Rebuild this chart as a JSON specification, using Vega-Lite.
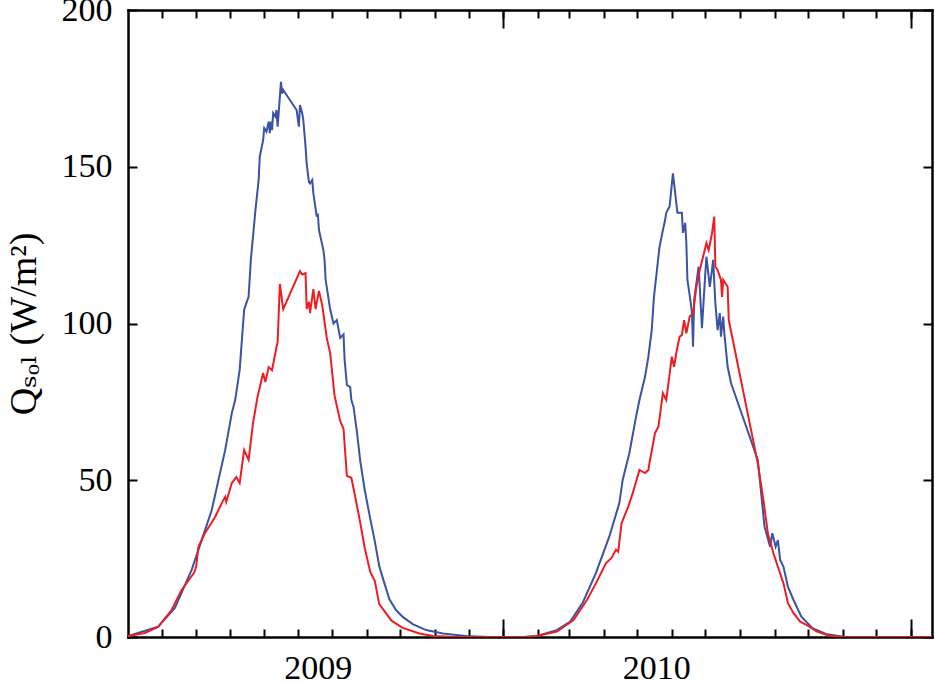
{
  "$schema": "https://vega.github.io/schema/vega-lite/v6.json",
  "width": 804,
  "height": 627,
  "autosize": {"type": "none"},
  "padding": {"left": 128, "top": 10, "right": 3, "bottom": 47},
  "background": "white",
  "config": {
    "view": {"stroke": null},
    "axis": {
      "labelFont": "Liberation Serif",
      "titleFont": "Liberation Serif, DejaVu Serif",
      "labelColor": "black",
      "titleColor": "black",
      "domainColor": "black",
      "domainWidth": 2.5,
      "domainCap": "square",
      "tickColor": "black",
      "tickWidth": 2,
      "grid": false
    }
  },
  "data": {
    "values": [
      {"date": "2009-01-30", "series": "blue", "q": 0.3},
      {"date": "2009-02-26", "series": "blue", "q": 3.3},
      {"date": "2009-03-13", "series": "blue", "q": 9.3},
      {"date": "2009-03-28", "series": "blue", "q": 21.4},
      {"date": "2009-04-06", "series": "blue", "q": 30.9},
      {"date": "2009-04-15", "series": "blue", "q": 40.5},
      {"date": "2009-04-27", "series": "blue", "q": 59.6},
      {"date": "2009-05-03", "series": "blue", "q": 71.5},
      {"date": "2009-05-06", "series": "blue", "q": 75.6},
      {"date": "2009-05-10", "series": "blue", "q": 85.2},
      {"date": "2009-05-14", "series": "blue", "q": 104.3},
      {"date": "2009-05-16", "series": "blue", "q": 106.5},
      {"date": "2009-05-18", "series": "blue", "q": 108.5},
      {"date": "2009-05-20", "series": "blue", "q": 120.3},
      {"date": "2009-05-24", "series": "blue", "q": 135.7},
      {"date": "2009-05-27", "series": "blue", "q": 145.8},
      {"date": "2009-05-28", "series": "blue", "q": 153.2},
      {"date": "2009-05-31", "series": "blue", "q": 158.5},
      {"date": "2009-06-01", "series": "blue", "q": 162.3},
      {"date": "2009-06-03", "series": "blue", "q": 161.2},
      {"date": "2009-06-05", "series": "blue", "q": 164.4},
      {"date": "2009-06-06", "series": "blue", "q": 160.7},
      {"date": "2009-06-07", "series": "blue", "q": 164.4},
      {"date": "2009-06-08", "series": "blue", "q": 161.7},
      {"date": "2009-06-09", "series": "blue", "q": 167.1},
      {"date": "2009-06-11", "series": "blue", "q": 166.0},
      {"date": "2009-06-12", "series": "blue", "q": 168.1},
      {"date": "2009-06-13", "series": "blue", "q": 162.8},
      {"date": "2009-06-15", "series": "blue", "q": 172.3},
      {"date": "2009-06-16", "series": "blue", "q": 177.1},
      {"date": "2009-06-17", "series": "blue", "q": 173.4},
      {"date": "2009-06-18", "series": "blue", "q": 174.5},
      {"date": "2009-06-30", "series": "blue", "q": 168.1},
      {"date": "2009-07-02", "series": "blue", "q": 162.8},
      {"date": "2009-07-03", "series": "blue", "q": 169.7},
      {"date": "2009-07-05", "series": "blue", "q": 167.1},
      {"date": "2009-07-06", "series": "blue", "q": 164.9},
      {"date": "2009-07-08", "series": "blue", "q": 156.4},
      {"date": "2009-07-09", "series": "blue", "q": 151.1},
      {"date": "2009-07-11", "series": "blue", "q": 145.2},
      {"date": "2009-07-12", "series": "blue", "q": 144.7},
      {"date": "2009-07-14", "series": "blue", "q": 145.8},
      {"date": "2009-07-15", "series": "blue", "q": 141.5},
      {"date": "2009-07-18", "series": "blue", "q": 134.1},
      {"date": "2009-07-19", "series": "blue", "q": 135.1},
      {"date": "2009-07-20", "series": "blue", "q": 129.8},
      {"date": "2009-07-22", "series": "blue", "q": 126.6},
      {"date": "2009-07-24", "series": "blue", "q": 123.4},
      {"date": "2009-07-25", "series": "blue", "q": 120.3},
      {"date": "2009-07-26", "series": "blue", "q": 113.9},
      {"date": "2009-07-30", "series": "blue", "q": 104.6},
      {"date": "2009-08-02", "series": "blue", "q": 100.0},
      {"date": "2009-08-05", "series": "blue", "q": 101.1},
      {"date": "2009-08-08", "series": "blue", "q": 95.4},
      {"date": "2009-08-11", "series": "blue", "q": 96.5},
      {"date": "2009-08-12", "series": "blue", "q": 88.4},
      {"date": "2009-08-14", "series": "blue", "q": 80.4},
      {"date": "2009-08-17", "series": "blue", "q": 79.7},
      {"date": "2009-08-18", "series": "blue", "q": 75.6},
      {"date": "2009-08-20", "series": "blue", "q": 73.4},
      {"date": "2009-08-23", "series": "blue", "q": 65.4},
      {"date": "2009-08-26", "series": "blue", "q": 56.1},
      {"date": "2009-08-30", "series": "blue", "q": 46.9},
      {"date": "2009-09-04", "series": "blue", "q": 37.6},
      {"date": "2009-09-08", "series": "blue", "q": 30.6},
      {"date": "2009-09-12", "series": "blue", "q": 22.6},
      {"date": "2009-09-17", "series": "blue", "q": 16.7},
      {"date": "2009-09-21", "series": "blue", "q": 12.1},
      {"date": "2009-09-27", "series": "blue", "q": 8.6},
      {"date": "2009-10-03", "series": "blue", "q": 6.4},
      {"date": "2009-10-12", "series": "blue", "q": 4.1},
      {"date": "2009-10-24", "series": "blue", "q": 2.2},
      {"date": "2009-11-08", "series": "blue", "q": 1.1},
      {"date": "2009-12-02", "series": "blue", "q": 0.2},
      {"date": "2009-12-20", "series": "blue", "q": 0},
      {"date": "2010-01-20", "series": "blue", "q": 0},
      {"date": "2010-01-31", "series": "blue", "q": 0.3},
      {"date": "2010-02-18", "series": "blue", "q": 2.2},
      {"date": "2010-03-02", "series": "blue", "q": 4.9},
      {"date": "2010-03-13", "series": "blue", "q": 10.8},
      {"date": "2010-03-25", "series": "blue", "q": 20.4},
      {"date": "2010-04-06", "series": "blue", "q": 32.0},
      {"date": "2010-04-15", "series": "blue", "q": 42.7},
      {"date": "2010-04-18", "series": "blue", "q": 50.1},
      {"date": "2010-04-24", "series": "blue", "q": 58.7},
      {"date": "2010-04-30", "series": "blue", "q": 70.3},
      {"date": "2010-05-03", "series": "blue", "q": 75.6},
      {"date": "2010-05-08", "series": "blue", "q": 83.0},
      {"date": "2010-05-11", "series": "blue", "q": 89.4},
      {"date": "2010-05-14", "series": "blue", "q": 97.9},
      {"date": "2010-05-16", "series": "blue", "q": 108.5},
      {"date": "2010-05-18", "series": "blue", "q": 114.9},
      {"date": "2010-05-21", "series": "blue", "q": 124.5},
      {"date": "2010-05-24", "series": "blue", "q": 129.8},
      {"date": "2010-05-26", "series": "blue", "q": 133.0},
      {"date": "2010-05-27", "series": "blue", "q": 135.3},
      {"date": "2010-05-30", "series": "blue", "q": 137.3},
      {"date": "2010-06-02", "series": "blue", "q": 147.9},
      {"date": "2010-06-04", "series": "blue", "q": 141.6},
      {"date": "2010-06-06", "series": "blue", "q": 135.3},
      {"date": "2010-06-10", "series": "blue", "q": 135.3},
      {"date": "2010-06-11", "series": "blue", "q": 128.9},
      {"date": "2010-06-13", "series": "blue", "q": 132.1},
      {"date": "2010-06-14", "series": "blue", "q": 125.7},
      {"date": "2010-06-15", "series": "blue", "q": 113.9},
      {"date": "2010-06-18", "series": "blue", "q": 106.5},
      {"date": "2010-06-19", "series": "blue", "q": 103.4},
      {"date": "2010-06-20", "series": "blue", "q": 92.6},
      {"date": "2010-06-21", "series": "blue", "q": 107.5},
      {"date": "2010-06-25", "series": "blue", "q": 118.1},
      {"date": "2010-06-26", "series": "blue", "q": 111.7},
      {"date": "2010-06-28", "series": "blue", "q": 98.5},
      {"date": "2010-07-01", "series": "blue", "q": 116.1},
      {"date": "2010-07-02", "series": "blue", "q": 121.3},
      {"date": "2010-07-05", "series": "blue", "q": 111.7},
      {"date": "2010-07-07", "series": "blue", "q": 117.1},
      {"date": "2010-07-08", "series": "blue", "q": 120.3},
      {"date": "2010-07-10", "series": "blue", "q": 106.5},
      {"date": "2010-07-12", "series": "blue", "q": 97.9},
      {"date": "2010-07-14", "series": "blue", "q": 103.3},
      {"date": "2010-07-15", "series": "blue", "q": 95.8},
      {"date": "2010-07-17", "series": "blue", "q": 102.2},
      {"date": "2010-07-18", "series": "blue", "q": 97.0},
      {"date": "2010-07-21", "series": "blue", "q": 86.2},
      {"date": "2010-07-24", "series": "blue", "q": 81.0},
      {"date": "2010-08-17", "series": "blue", "q": 56.5},
      {"date": "2010-08-20", "series": "blue", "q": 45.9},
      {"date": "2010-08-23", "series": "blue", "q": 35.2},
      {"date": "2010-08-28", "series": "blue", "q": 28.8},
      {"date": "2010-08-30", "series": "blue", "q": 33.1},
      {"date": "2010-09-02", "series": "blue", "q": 28.8},
      {"date": "2010-09-04", "series": "blue", "q": 30.9},
      {"date": "2010-09-06", "series": "blue", "q": 24.6},
      {"date": "2010-09-09", "series": "blue", "q": 22.4},
      {"date": "2010-09-13", "series": "blue", "q": 16.0},
      {"date": "2010-09-18", "series": "blue", "q": 11.8},
      {"date": "2010-09-25", "series": "blue", "q": 6.5},
      {"date": "2010-10-05", "series": "blue", "q": 2.8},
      {"date": "2010-10-17", "series": "blue", "q": 1.0},
      {"date": "2010-11-01", "series": "blue", "q": 0.1},
      {"date": "2010-11-20", "series": "blue", "q": 0},
      {"date": "2011-01-20", "series": "blue", "q": 0},
      {"date": "2009-01-30", "series": "red", "q": 0.3},
      {"date": "2009-02-14", "series": "red", "q": 1.3},
      {"date": "2009-02-26", "series": "red", "q": 3.2},
      {"date": "2009-03-10", "series": "red", "q": 8.6},
      {"date": "2009-03-19", "series": "red", "q": 15.0},
      {"date": "2009-03-30", "series": "red", "q": 20.4},
      {"date": "2009-04-01", "series": "red", "q": 22.3},
      {"date": "2009-04-03", "series": "red", "q": 28.7},
      {"date": "2009-04-09", "series": "red", "q": 33.2},
      {"date": "2009-04-18", "series": "red", "q": 38.3},
      {"date": "2009-04-24", "series": "red", "q": 42.7},
      {"date": "2009-04-27", "series": "red", "q": 44.7},
      {"date": "2009-04-28", "series": "red", "q": 43.1},
      {"date": "2009-05-03", "series": "red", "q": 49.1},
      {"date": "2009-05-07", "series": "red", "q": 51.0},
      {"date": "2009-05-10", "series": "red", "q": 49.1},
      {"date": "2009-05-14", "series": "red", "q": 59.6},
      {"date": "2009-05-18", "series": "red", "q": 56.5},
      {"date": "2009-05-22", "series": "red", "q": 68.3},
      {"date": "2009-05-26", "series": "red", "q": 76.6},
      {"date": "2009-05-31", "series": "red", "q": 84.2},
      {"date": "2009-06-02", "series": "red", "q": 81.3},
      {"date": "2009-06-05", "series": "red", "q": 86.1},
      {"date": "2009-06-08", "series": "red", "q": 85.1},
      {"date": "2009-06-12", "series": "red", "q": 92.5},
      {"date": "2009-06-13", "series": "red", "q": 94.1},
      {"date": "2009-06-15", "series": "red", "q": 112.6},
      {"date": "2009-06-18", "series": "red", "q": 104.6},
      {"date": "2009-07-03", "series": "red", "q": 116.7},
      {"date": "2009-07-05", "series": "red", "q": 115.6},
      {"date": "2009-07-08", "series": "red", "q": 116.1},
      {"date": "2009-07-09", "series": "red", "q": 104.6},
      {"date": "2009-07-11", "series": "red", "q": 106.9},
      {"date": "2009-07-12", "series": "red", "q": 103.3},
      {"date": "2009-07-15", "series": "red", "q": 111.0},
      {"date": "2009-07-17", "series": "red", "q": 104.6},
      {"date": "2009-07-20", "series": "red", "q": 110.4},
      {"date": "2009-07-23", "series": "red", "q": 105.7},
      {"date": "2009-07-27", "series": "red", "q": 95.4},
      {"date": "2009-07-30", "series": "red", "q": 90.7},
      {"date": "2009-08-03", "series": "red", "q": 76.9},
      {"date": "2009-08-08", "series": "red", "q": 68.9},
      {"date": "2009-08-11", "series": "red", "q": 66.4},
      {"date": "2009-08-14", "series": "red", "q": 51.4},
      {"date": "2009-08-18", "series": "red", "q": 50.8},
      {"date": "2009-08-21", "series": "red", "q": 45.6},
      {"date": "2009-08-26", "series": "red", "q": 36.4},
      {"date": "2009-08-30", "series": "red", "q": 28.4},
      {"date": "2009-09-04", "series": "red", "q": 20.7},
      {"date": "2009-09-08", "series": "red", "q": 17.9},
      {"date": "2009-09-12", "series": "red", "q": 10.5},
      {"date": "2009-09-17", "series": "red", "q": 8.1},
      {"date": "2009-09-23", "series": "red", "q": 5.2},
      {"date": "2009-10-03", "series": "red", "q": 2.9},
      {"date": "2009-10-18", "series": "red", "q": 1.1},
      {"date": "2009-10-30", "series": "red", "q": 0.3},
      {"date": "2009-11-20", "series": "red", "q": 0},
      {"date": "2010-01-20", "series": "red", "q": 0},
      {"date": "2010-01-31", "series": "red", "q": 0.3},
      {"date": "2010-02-18", "series": "red", "q": 1.7},
      {"date": "2010-03-05", "series": "red", "q": 5.4},
      {"date": "2010-03-17", "series": "red", "q": 11.8},
      {"date": "2010-03-25", "series": "red", "q": 17.1},
      {"date": "2010-04-03", "series": "red", "q": 23.5},
      {"date": "2010-04-08", "series": "red", "q": 25.2},
      {"date": "2010-04-12", "series": "red", "q": 27.8},
      {"date": "2010-04-14", "series": "red", "q": 27.2},
      {"date": "2010-04-17", "series": "red", "q": 36.3},
      {"date": "2010-04-23", "series": "red", "q": 41.6},
      {"date": "2010-04-27", "series": "red", "q": 45.9},
      {"date": "2010-05-03", "series": "red", "q": 53.3},
      {"date": "2010-05-08", "series": "red", "q": 52.3},
      {"date": "2010-05-11", "series": "red", "q": 53.3},
      {"date": "2010-05-12", "series": "red", "q": 55.5},
      {"date": "2010-05-17", "series": "red", "q": 65.1},
      {"date": "2010-05-20", "series": "red", "q": 67.1},
      {"date": "2010-05-24", "series": "red", "q": 77.8},
      {"date": "2010-05-27", "series": "red", "q": 75.6},
      {"date": "2010-05-29", "series": "red", "q": 81.0},
      {"date": "2010-06-01", "series": "red", "q": 89.4},
      {"date": "2010-06-03", "series": "red", "q": 86.2},
      {"date": "2010-06-05", "series": "red", "q": 90.6},
      {"date": "2010-06-08", "series": "red", "q": 95.8},
      {"date": "2010-06-10", "series": "red", "q": 96.3},
      {"date": "2010-06-12", "series": "red", "q": 101.1},
      {"date": "2010-06-14", "series": "red", "q": 96.9},
      {"date": "2010-06-17", "series": "red", "q": 102.2},
      {"date": "2010-06-20", "series": "red", "q": 103.3},
      {"date": "2010-06-23", "series": "red", "q": 111.7},
      {"date": "2010-06-26", "series": "red", "q": 117.1},
      {"date": "2010-06-29", "series": "red", "q": 121.3},
      {"date": "2010-07-02", "series": "red", "q": 125.6},
      {"date": "2010-07-04", "series": "red", "q": 123.4},
      {"date": "2010-07-07", "series": "red", "q": 128.8},
      {"date": "2010-07-09", "series": "red", "q": 134.1},
      {"date": "2010-07-10", "series": "red", "q": 118.1},
      {"date": "2010-07-12", "series": "red", "q": 117.1},
      {"date": "2010-07-15", "series": "red", "q": 113.9},
      {"date": "2010-07-16", "series": "red", "q": 108.5},
      {"date": "2010-07-17", "series": "red", "q": 113.9},
      {"date": "2010-07-21", "series": "red", "q": 111.7},
      {"date": "2010-07-22", "series": "red", "q": 101.1},
      {"date": "2010-08-17", "series": "red", "q": 55.4},
      {"date": "2010-08-22", "series": "red", "q": 43.7},
      {"date": "2010-08-26", "series": "red", "q": 33.1},
      {"date": "2010-08-31", "series": "red", "q": 26.7},
      {"date": "2010-09-04", "series": "red", "q": 22.4},
      {"date": "2010-09-09", "series": "red", "q": 17.1},
      {"date": "2010-09-13", "series": "red", "q": 10.8},
      {"date": "2010-09-18", "series": "red", "q": 7.6},
      {"date": "2010-09-24", "series": "red", "q": 4.9},
      {"date": "2010-09-30", "series": "red", "q": 3.8},
      {"date": "2010-10-09", "series": "red", "q": 1.7},
      {"date": "2010-10-20", "series": "red", "q": 0.4},
      {"date": "2010-11-01", "series": "red", "q": 0.1},
      {"date": "2010-11-20", "series": "red", "q": 0},
      {"date": "2011-01-20", "series": "red", "q": 0}
    ]
  },
  "layer": [
    {
      "transform": [{"filter": "datum.series === 'blue'"}],
      "mark": {"type": "line", "color": "#3a53a4", "strokeWidth": 2, "clip": true},
      "encoding": {
        "x": {
          "field": "date",
          "type": "temporal",
          "scale": {"domain": [{"year": 2009, "month": 1, "date": 30}, {"year": 2011, "month": 1, "date": 20}]},
          "axis": {
            "orient": "bottom",
            "title": null,
            "values": [
              {"year": 2009, "month": 3, "date": 1}, {"year": 2009, "month": 4, "date": 1},
              {"year": 2009, "month": 5, "date": 1}, {"year": 2009, "month": 6, "date": 1},
              {"year": 2009, "month": 7, "date": 1}, {"year": 2009, "month": 7, "date": 19},
              {"year": 2009, "month": 8, "date": 1}, {"year": 2009, "month": 9, "date": 1},
              {"year": 2009, "month": 10, "date": 1}, {"year": 2009, "month": 11, "date": 1},
              {"year": 2009, "month": 12, "date": 1}, {"year": 2010, "month": 1, "date": 1},
              {"year": 2010, "month": 2, "date": 1}, {"year": 2010, "month": 3, "date": 1},
              {"year": 2010, "month": 4, "date": 1}, {"year": 2010, "month": 5, "date": 1},
              {"year": 2010, "month": 5, "date": 18}, {"year": 2010, "month": 6, "date": 1},
              {"year": 2010, "month": 7, "date": 1}, {"year": 2010, "month": 8, "date": 1},
              {"year": 2010, "month": 9, "date": 1}, {"year": 2010, "month": 10, "date": 1},
              {"year": 2010, "month": 11, "date": 1}, {"year": 2010, "month": 12, "date": 1},
              {"year": 2011, "month": 1, "date": 1}
            ],
            "tickSize": -8,
            "tickOpacity": {"condition": {"test": "date(datum.value) != 1", "value": 0}, "value": 1},
            "labelExpr": "date(datum.value) == 19 ? '2009' : date(datum.value) == 18 ? '2010' : ''",
            "labelFontSize": 34,
            "labelPadding": 22,
            "labelFlush": false,
            "labelOverlap": false,
            "labelBound": false
          }
        },
        "y": {
          "field": "q",
          "type": "quantitative",
          "scale": {"domain": [0, 200]},
          "axis": {
            "orient": "left",
            "values": [0, 50, 100, 150, 200],
            "tickSize": -9,
            "labelFontSize": 34,
            "labelPadding": 25,
            "title": "Qₛₒₗ (W/m²)",
            "titleFontSize": 38,
            "titleFontWeight": "normal",
            "titlePadding": 18
          }
        }
      }
    },
    {
      "transform": [{"filter": "datum.series === 'red'"}],
      "mark": {"type": "line", "color": "#ee1d23", "strokeWidth": 2, "clip": true},
      "encoding": {
        "x": {
          "field": "date",
          "type": "temporal",
          "scale": {"domain": [{"year": 2009, "month": 1, "date": 30}, {"year": 2011, "month": 1, "date": 20}]},
          "axis": {
            "orient": "top",
            "title": null,
            "labels": false,
            "values": [
              {"year": 2009, "month": 3, "date": 1}, {"year": 2009, "month": 4, "date": 1},
              {"year": 2009, "month": 5, "date": 1}, {"year": 2009, "month": 6, "date": 1},
              {"year": 2009, "month": 7, "date": 1}, {"year": 2009, "month": 8, "date": 1},
              {"year": 2009, "month": 9, "date": 1}, {"year": 2009, "month": 10, "date": 1},
              {"year": 2009, "month": 11, "date": 1}, {"year": 2009, "month": 12, "date": 1},
              {"year": 2010, "month": 1, "date": 1}, {"year": 2010, "month": 2, "date": 1},
              {"year": 2010, "month": 3, "date": 1}, {"year": 2010, "month": 4, "date": 1},
              {"year": 2010, "month": 5, "date": 1}, {"year": 2010, "month": 6, "date": 1},
              {"year": 2010, "month": 7, "date": 1}, {"year": 2010, "month": 8, "date": 1},
              {"year": 2010, "month": 9, "date": 1}, {"year": 2010, "month": 10, "date": 1},
              {"year": 2010, "month": 11, "date": 1}, {"year": 2010, "month": 12, "date": 1},
              {"year": 2011, "month": 1, "date": 1}
            ],
            "tickSize": -8
          }
        },
        "y": {
          "field": "q",
          "type": "quantitative",
          "scale": {"domain": [0, 200]},
          "axis": {
            "orient": "right",
            "values": [0, 50, 100, 150, 200],
            "tickSize": -9,
            "labels": false,
            "title": null
          }
        }
      }
    },
    {
      "transform": [{"filter": "datum.series === 'blue'"}],
      "mark": {"type": "line", "opacity": 0, "clip": true},
      "encoding": {
        "x": {
          "field": "date",
          "type": "temporal",
          "scale": {"domain": [{"year": 2009, "month": 1, "date": 30}, {"year": 2011, "month": 1, "date": 20}]},
          "axis": {
            "orient": "bottom",
            "title": null,
            "labels": false,
            "domain": false,
            "values": [{"year": 2010, "month": 1, "date": 1}, {"year": 2011, "month": 1, "date": 1}],
            "tickSize": -18
          }
        },
        "y": {
          "field": "q",
          "type": "quantitative",
          "scale": {"domain": [0, 200]},
          "axis": null
        }
      }
    },
    {
      "transform": [{"filter": "datum.series === 'red'"}],
      "mark": {"type": "line", "opacity": 0, "clip": true},
      "encoding": {
        "x": {
          "field": "date",
          "type": "temporal",
          "scale": {"domain": [{"year": 2009, "month": 1, "date": 30}, {"year": 2011, "month": 1, "date": 20}]},
          "axis": {
            "orient": "top",
            "title": null,
            "labels": false,
            "domain": false,
            "values": [{"year": 2010, "month": 1, "date": 1}, {"year": 2011, "month": 1, "date": 1}],
            "tickSize": -18
          }
        },
        "y": {
          "field": "q",
          "type": "quantitative",
          "scale": {"domain": [0, 200]},
          "axis": null
        }
      }
    }
  ],
  "resolve": {"axis": {"x": "independent", "y": "independent"}}
}
